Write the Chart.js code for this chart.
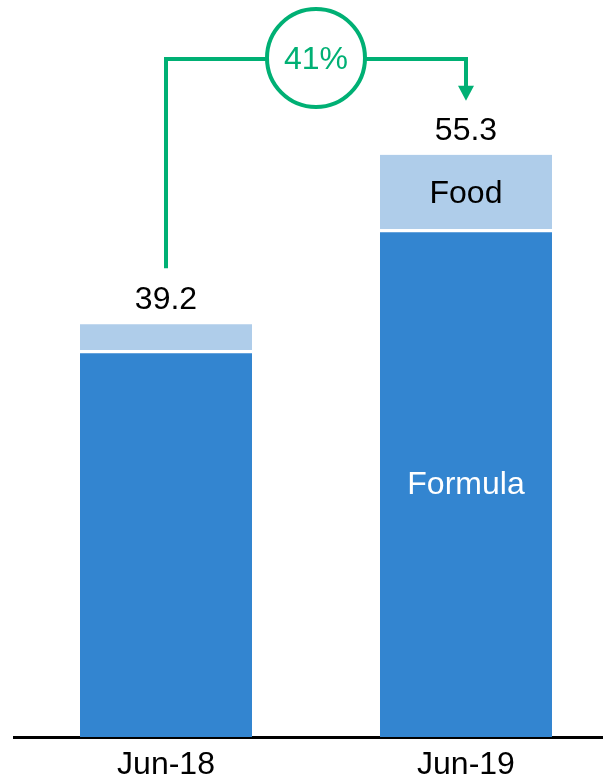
<!DOCTYPE html>
<html>
<head>
<meta charset="utf-8">
<title>Formula and Food</title>
<script src="https://cdn.jsdelivr.net/npm/chart.js@4/dist/chart.umd.min.js"></script>
<style>
  html, body { margin: 0; padding: 0; background: #ffffff; overflow: hidden; }
  #wrap { width: 603px; height: 780px; }
</style>
</head>
<body>
<div id="wrap"><canvas id="c" width="603" height="780"></canvas></div>
<script>
// Periods and stacked segment values
const categories = ['Jun-18', 'Jun-19'];
const formulaValues = [36.6, 48.1];
const foodValues = [2.6, 7.2];
const totals = [39.2, 55.3];
const growthLabel = '41%';

const FONT = '"Liberation Sans", Arial, Helvetica, sans-serif';
const GREEN = '#00B074';

const toPoints = arr => arr.map((v, i) => ({ x: i, y: v }));

// Totals above each bar, segment names inside the latest bar, and the growth connector
const annotations = {
  id: 'annotations',
  afterDatasetsDraw(chart) {
    const ctx = chart.ctx;
    const xs = chart.scales.x, ys = chart.scales.y;
    const formulaMeta = chart.getDatasetMeta(0);
    const foodMeta = chart.getDatasetMeta(1);

    ctx.save();
    ctx.font = '32px ' + FONT;
    ctx.textAlign = 'center';

    // totals
    ctx.fillStyle = '#000000';
    ctx.textBaseline = 'alphabetic';
    totals.forEach((t, i) => {
      ctx.fillText(t.toFixed(1), xs.getPixelForValue(i), ys.getPixelForValue(t) - 15);
    });

    // segment names on the last bar
    const last = categories.length - 1;
    const fb = foodMeta.data[last];
    const mb = formulaMeta.data[last];
    ctx.textBaseline = 'middle';
    ctx.fillStyle = '#000000';
    ctx.fillText('Food', fb.x, (fb.y + fb.base) / 2 + 1);
    ctx.fillStyle = '#ffffff';
    ctx.fillText('Formula', mb.x, (mb.y + mb.base) / 2 + 1);

    // growth connector
    const x1 = xs.getPixelForValue(0);
    const x2 = xs.getPixelForValue(last);
    const yLine = chart.chartArea.top + 59;
    const yStart = ys.getPixelForValue(totals[0]) - 56;
    const yTip = ys.getPixelForValue(totals[last]) - 54;
    ctx.strokeStyle = GREEN;
    ctx.fillStyle = GREEN;
    ctx.lineWidth = 4;
    ctx.lineJoin = 'miter';
    ctx.beginPath();
    ctx.moveTo(x1, yStart);
    ctx.lineTo(x1, yLine);
    ctx.lineTo(x2, yLine);
    ctx.lineTo(x2, yTip - 14);
    ctx.stroke();
    ctx.beginPath();
    ctx.moveTo(x2 - 8, yTip - 15);
    ctx.lineTo(x2 + 8, yTip - 15);
    ctx.lineTo(x2, yTip);
    ctx.closePath();
    ctx.fill();

    const cx = (x1 + x2) / 2;
    ctx.beginPath();
    ctx.arc(cx, yLine - 1, 49, 0, Math.PI * 2);
    ctx.fillStyle = '#ffffff';
    ctx.fill();
    ctx.stroke();
    ctx.fillStyle = GREEN;
    ctx.textBaseline = 'middle';
    ctx.fillText(growthLabel, cx, yLine + 1);
    ctx.restore();
  }
};

new Chart(document.getElementById('c'), {
  type: 'bar',
  data: {
    datasets: [
      {
        label: 'Formula',
        data: toPoints(formulaValues),
        backgroundColor: '#3385D0',
        borderColor: '#ffffff',
        borderWidth: { top: 2, left: 0, right: 0, bottom: 0 },
        borderSkipped: false,
        barThickness: 172
      },
      {
        label: 'Food',
        data: toPoints(foodValues),
        backgroundColor: '#AFCDEA',
        borderColor: '#ffffff',
        borderWidth: { top: 0, left: 0, right: 0, bottom: 2 },
        borderSkipped: false,
        barThickness: 172
      }
    ]
  },
  options: {
    responsive: false,
    animation: false,
    devicePixelRatio: 1,
    layout: { padding: { left: 14, right: 0, top: 0, bottom: 0 } },
    plugins: {
      legend: { display: false },
      tooltip: { enabled: false }
    },
    scales: {
      x: {
        type: 'linear',
        stacked: true,
        offset: false,
        min: -0.5067,
        max: 1.4567,
        afterBuildTicks(scale) {
          scale.ticks = categories.map((_, i) => ({ value: i }));
        },
        afterFit(scale) { scale.height = 43; },
        grid: { offset: false, color: 'rgba(0,0,0,0)', drawTicks: false, drawOnChartArea: false },
        border: { display: true, color: '#000000', width: 3 },
        ticks: {
          autoSkip: false,
          maxRotation: 0,
          padding: 9,
          color: '#000000',
          font: { family: FONT, size: 32 },
          callback: v => categories[v] ?? ''
        }
      },
      y: {
        stacked: true,
        display: false,
        min: 0,
        max: 70
      }
    }
  },
  plugins: [annotations]
});
</script>
</body>
</html>
